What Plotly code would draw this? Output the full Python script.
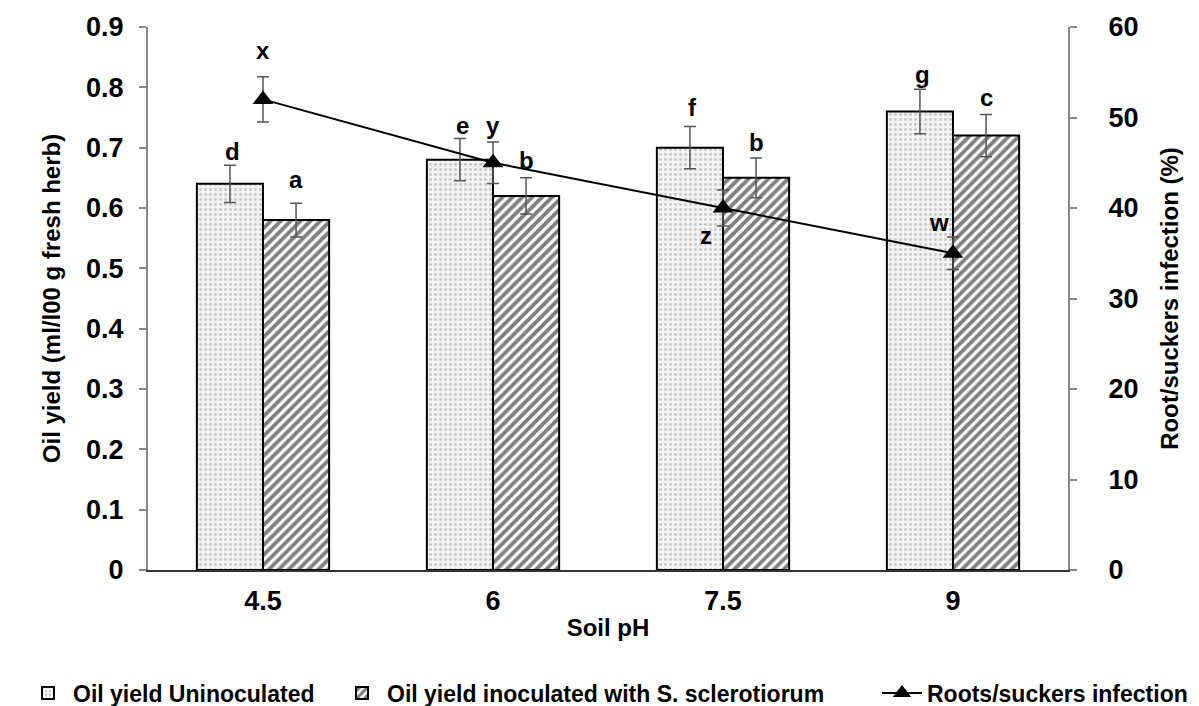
import plotly.graph_objects as go

ph = ["4.5", "6", "7.5", "9"]
oil_uninoc = [0.64, 0.68, 0.70, 0.76]
oil_uninoc_err = [0.031, 0.035, 0.035, 0.037]
oil_inoc = [0.58, 0.62, 0.65, 0.72]
oil_inoc_err = [0.028, 0.03, 0.033, 0.035]
infection = [52, 45, 40, 35]
infection_err = [2.5, 2.3, 2.0, 1.8]
letters_uninoc = ["d", "e", "f", "g"]
letters_inoc = ["a", "b", "b", "c"]
letters_inf = ["x", "y", "z", "w"]

FONT = "Liberation Sans, Arial, sans-serif"
W, H = 1191, 698  # page body has an 8px margin

fig = go.Figure()

fig.add_trace(go.Bar(
    x=ph, y=oil_uninoc, name="Oil yield Uninoculated", legend="legend",
    error_y=dict(type="data", array=oil_uninoc_err, color="#555", thickness=1.5, width=6),
    marker=dict(color="#f3f3f3", line=dict(color="black", width=2),
                pattern=dict(shape=".", fgcolor="#9a9a9a", bgcolor="#f3f3f3", size=5, solidity=0.25)),
))
fig.add_trace(go.Bar(
    x=ph, y=oil_inoc, name="Oil yield inoculated with S. sclerotiorum", legend="legend2",
    error_y=dict(type="data", array=oil_inoc_err, color="#555", thickness=1.5, width=6),
    marker=dict(color="white", line=dict(color="black", width=2),
                pattern=dict(shape="/", fgcolor="black", bgcolor="white", size=7, solidity=0.55)),
))
fig.add_trace(go.Scatter(
    x=ph, y=infection, name="Roots/suckers infection", yaxis="y2", legend="legend3",
    mode="lines+markers",
    line=dict(color="black", width=2),
    marker=dict(symbol="triangle-up", size=18, color="black"),
    error_y=dict(type="data", array=infection_err, color="#555", thickness=1.5, width=6),
))

ann = []
lf = dict(family=FONT, size=24, color="black", weight="bold")
shifts_u = [-2, -2, 4, -1]
shifts_i = [8, 2, 0, 1]
for i in range(len(ph)):
    ann.append(dict(x=i, y=oil_uninoc[i] + oil_uninoc_err[i], xref="x", yref="y",
                    text=letters_uninoc[i], showarrow=False, xshift=-31, yshift=shifts_u[i],
                    yanchor="bottom", font=lf))
    ann.append(dict(x=i, y=oil_inoc[i] + oil_inoc_err[i], xref="x", yref="y",
                    text=letters_inoc[i], showarrow=False, xshift=33, yshift=shifts_i[i],
                    yanchor="bottom", font=lf))
inf_xshift = [0, 0, -17, -14]
inf_yshift = [11, 1, -61, -1]
for i in range(len(ph)):
    ann.append(dict(x=i, y=infection[i] + infection_err[i], xref="x", yref="y2",
                    text=letters_inf[i], showarrow=False, xshift=inf_xshift[i], yshift=inf_yshift[i],
                    yanchor="bottom", font=lf))

tickfont = dict(family=FONT, size=27, color="black", weight="bold")
titlefont = dict(family=FONT, size=24, color="black", weight="bold")
legfont = dict(family=FONT, size=23, color="black", weight="bold")

def leg(x):
    return dict(orientation="h", x=x / W, xref="container", xanchor="left",
                y=1 - 685 / H, yref="container", yanchor="middle",
                font=legfont, itemwidth=40, bgcolor="rgba(0,0,0,0)")

fig.update_layout(
    width=W, height=H,
    margin=dict(l=140, r=131, t=19, b=136, autoexpand=False),
    paper_bgcolor="white", plot_bgcolor="white",
    barmode="group", bargap=0.425, bargroupgap=0,
    font=dict(family=FONT, color="black"),
    annotations=ann,
    showlegend=True,
    legend=leg(15), legend2=leg(329), legend3=leg(869),
    xaxis=dict(type="category", range=[-0.5, 3.5], showline=True, linecolor="#333", linewidth=2,
               ticks="", tickfont=tickfont, ticklabelstandoff=6,
               title=dict(text="Soil pH", font=titlefont, standoff=4),
               showgrid=False, zeroline=False),
    yaxis=dict(range=[0, 0.9], dtick=0.1, showline=True, linecolor="#888",
               linewidth=2, ticks="outside", ticklen=7, tickcolor="#888", tickwidth=2,
               tickfont=tickfont, ticklabelstandoff=10, showgrid=False, zeroline=False,
               title=dict(text="Oil yield (ml/l00 g fresh herb)", font=titlefont, standoff=19)),
    yaxis2=dict(range=[0, 60], dtick=10, overlaying="y", side="right", showline=True,
                linecolor="#888", linewidth=2, ticks="outside", ticklen=7, tickcolor="#888",
                tickwidth=2, tickfont=tickfont, ticklabelstandoff=26, showgrid=False, zeroline=False,
                title=dict(text="Root/suckers infection (%)", font=titlefont, standoff=24)),
)

fig.write_html("out.html")
